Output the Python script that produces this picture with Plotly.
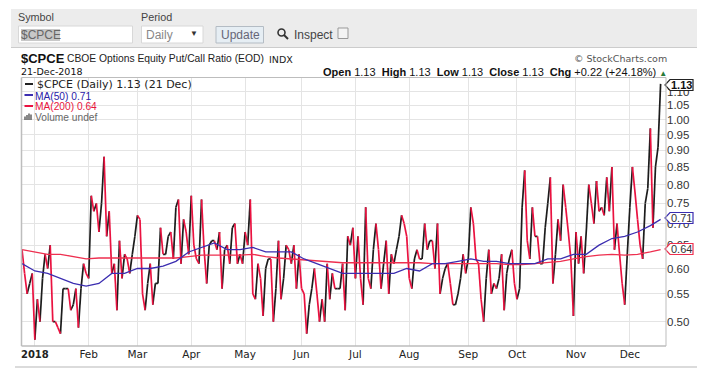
import math
import pandas as pd
import plotly.graph_objects as go

W, H = 710, 368
HOLIDAYS = ["2017-12-25", "2018-01-01", "2018-01-15", "2018-02-19", "2018-03-30", "2018-05-28",
            "2018-07-04", "2018-09-03", "2018-11-22", "2018-12-05"]
dates = [d.strftime("%Y-%m-%d") for d in pd.bdate_range("2017-12-22", "2018-12-21")
         if d.strftime("%Y-%m-%d") not in HOLIDAYS]

close = [.64,.59,.55,.57,.59,.47,.54,.50,.58,.63,.60,.65,.50,.50,.49,.48,.56,.56,.56,.52,.53,.56,.49,.56,.61,
         .59,.58,.77,.73,.75,.68,.75,.88,.67,.73,.59,.61,.52,.66,.58,.63,.62,.59,.63,.67,.72,.71,.55,.52,.57,
         .61,.53,.57,.57,.69,.63,.63,.67,.68,.62,.74,.76,
         .61,.71,.68,.63,.77,.65,.62,.61,.76,.64,.57,.65,.66,.66,.64,.68,.56,.64,.65,.61,.69,.70,.61,.63,.61,
         .68,.65,.76,.55,.54,.61,.58,.51,.60,.62,.62,.50,.56,.66,.54,.58,.65,.64,.61,.65,.56,.63,.56,.55,.48,
         .53,.56,.60,.55,.50,.54,.50,.61,.54,.59,.56,.56,.56,.61,.52,.67,.65,.69,.58,.67,.58,
         .53,.74,.58,.56,.64,.70,.64,.56,.61,.66,.55,.63,.61,.64,.67,.72,.70,.67,.58,.56,.62,.64,.62,.62,.70,
         .64,.66,.66,.60,.70,.55,.58,.60,.61,.57,.53,.53,.55,.58,.63,.59,.62,.74,.70,.62,.61,.54,.50,.58,.64,
         .55,.57,.56,.58,.63,.52,.59,.62,.64,.57,.54,.56,.74,.84,.66,.62,.74,.67,.67,
         .61,.61,.69,.75,.82,.57,.63,.71,.66,.80,.74,.68,.62,.51,.68,.61,.67,.59,.68,.80,.75,.70,.81,.73,.74,
         .72,.82,.73,.85,.64,.70,.63,.57,.53,.63,.74,.85,.78,.71,.65,.62,.75,.79,.97,.69,.85,.91,1.13]

ma_index = list(range(0, 246, 5)) + [249]
ma50 = [.61,.595,.59,.58,.57,.565,.57,.59,.59,.60,.60,.605,.615,
        .635,.645,.655,.64,.64,.645,.635,.635,.635,.62,.61,.60,.59,.59,
        .59,.59,.59,.60,.595,.61,.61,.615,.62,.615,.615,.61,.61,
        .61,.62,.62,.63,.63,.65,.665,.67,.68,.695,.71]
ma200 = [.64,.635,.63,.63,.625,.62,.622,.622,.622,.622,.622,.622,.622,
         .625,.628,.628,.628,.628,.63,.625,.622,.62,.618,.615,.613,.612,.612,
         .612,.612,.612,.612,.612,.61,.61,.61,.61,.61,.61,.608,.608,
         .61,.612,.615,.62,.625,.628,.63,.628,.63,.635,.64]

y_ticks = [.50,.55,.60,.65,.70,.75,.80,.85,.90,.95,1.00,1.05,1.10]
x_tick_dates = ["2018-01-02","2018-02-01","2018-03-01","2018-04-02","2018-05-01","2018-06-01",
                "2018-07-02","2018-08-01","2018-09-04","2018-10-01","2018-11-01","2018-12-03"]
x_tick_text = ["<b style='font-size:10px'>2018</b>","Feb","Mar","Apr","May","Jun","Jul","Aug","Sep","Oct","Nov","Dec"]

BLACK, RED, BLUE, MARED = "#1c1c1c", "#ea1240", "#3b2db0", "#ee2f4f"
SANS, WIDE = "Liberation Sans, Arial", "DejaVu Sans, Verdana"

L, R, T, B = 21.5, 666.0, 77.5, 346.0
px = lambda x: x / W
py = lambda y: 1 - y / H

up_x, up_y, down_x, down_y = [], [], [], []
for i in range(1, len(close)):
    xs, ys = (down_x, down_y) if close[i] < close[i - 1] else (up_x, up_y)
    xs += [dates[i - 1], dates[i], None]
    ys += [close[i - 1], close[i], None]

fig = go.Figure()
fig.add_trace(go.Scatter(x=up_x, y=up_y, mode="lines", line=dict(color=BLACK, width=1.7), connectgaps=False))
fig.add_trace(go.Scatter(x=down_x, y=down_y, mode="lines", line=dict(color=RED, width=1.7), connectgaps=False))
fig.add_trace(go.Scatter(x=[dates[i] for i in ma_index], y=ma200, mode="lines", line=dict(color=MARED, width=1.3)))
fig.add_trace(go.Scatter(x=[dates[i] for i in ma_index], y=ma50, mode="lines", line=dict(color=BLUE, width=1.3)))

shapes, ann = [], []
def rect(x0, y0, x1, y1, fill=None, line=None, lw=1):
    shapes.append(dict(type="rect", xref="paper", yref="paper", x0=px(x0), x1=px(x1), y0=py(y0), y1=py(y1),
                       fillcolor=fill or "rgba(0,0,0,0)", line=dict(color=line or "rgba(0,0,0,0)", width=lw if line else 0), layer="below"))
def hline(x0, x1, y, col, lw=1, layer="above", y2=None):
    shapes.append(dict(type="line", xref="paper", yref="paper", x0=px(x0), x1=px(x1), y0=py(y), y1=py(y if y2 is None else y2),
                       line=dict(color=col, width=lw), layer=layer))
def text(x, y, s, size=11, color="#222", family=SANS, anchor="left"):
    ann.append(dict(xref="paper", yref="paper", x=px(x), y=py(y), text=s, showarrow=False, xanchor=anchor, yanchor="middle",
                    font=dict(size=size, color=color, family=family), borderpad=0, borderwidth=0))

rect(11, 9, 697, 47, fill="#ececec")
hline(11, 697, 47.5, "#cccccc", 1.2, layer="below")
rect(18.5, 26, 132.5, 43, fill="#ffffff", line="#d8d8d8")
rect(21, 29, 60, 41, fill="#c8c8c8")
rect(141.5, 26, 203, 43, fill="#ffffff", line="#d8d8d8")
rect(216, 26.5, 263.5, 43, fill="#e6eef4", line="#b4bcc4")
rect(338, 28, 348, 38.5, fill="#f4f4f4", line="#999999")
shapes.append(dict(type="circle", xref="paper", yref="paper", x0=px(278), x1=px(285), y0=py(29), y1=py(36),
                   line=dict(color="#333", width=1.6)))
hline(284, 288, 35, "#333", 2, y2=39)
text(18, 17, "Symbol", 10.8, "#444")
text(141, 17, "Period", 10.8, "#444")
text(21, 35, "$CPCE", 12, "#666")
text(146, 35, "Daily", 12, "#888")
text(190, 34, "▼", 8, "#333")
text(221, 35, "Update", 12, "#667")
text(294, 35, "Inspect", 12, "#444")

text(21, 58.5, "<b>$CPCE</b>", 13, "#111")
text(67, 58.5, "CBOE Options Equity Put/Call Ratio (EOD)", 10.3, "#222")
text(269, 59, "INDX", 9.5, "#222", WIDE)
text(21, 71.5, "21-Dec-2018", 9.5, "#111", WIDE)
text(667, 58.5, "© StockCharts.com", 9.5, "#555", WIDE, "right")
text(667, 71.5, "<b>Open</b> 1.13  <b>High</b> 1.13  <b>Low</b> 1.13  <b>Close</b> 1.13  <b>Chg</b> +0.22 (+24.18%) "
     "<span style='color:#2a7a3a;font-size:8px'>▲</span>", 11, "#111", SANS, "right")

text(36.5, 85, "$CPCE (Daily) 1.13 (21 Dec)", 11, "#222", WIDE)
text(34.5, 96, "MA(50) 0.71", 10.2, "#2a20a8")
text(34.5, 106.5, "MA(200) 0.64", 10.2, "#e8143c")
text(34.5, 117, "Volume undef", 10.2, "#666")
hline(25, 33, 84, "#222", 2)
hline(24.5, 33, 95, BLUE, 2)
hline(24.5, 33, 106, RED, 2)
for xb, top in [(25, 116.5), (27, 115), (29, 113.5), (31, 114.5)]:
    hline(xb, xb, 120, "#555", 1.4, y2=top)

def callout(y_mid, label, col, bold):
    top, bot = y_mid - 5.5, y_mid + 5.5
    xs = [665, 670, 693, 693, 670]
    ys = [y_mid, top, top, bot, bot]
    path = "M " + " L ".join(f"{px(a)},{py(b)}" for a, b in zip(xs, ys)) + " Z"
    shapes.append(dict(type="path", xref="paper", yref="paper", path=path, fillcolor="#ffffff",
                       line=dict(color=col, width=1.2), layer="above"))
    text(681.5, y_mid + 0.3, f"<b>{label}</b>" if bold else label, 11, "#111" if bold else "#333", SANS, "center")
callout(85, "1.13", "#222", True)
callout(218, "0.71", BLUE, False)
callout(249, "0.64", MARED, False)

hline(L, R, T, "#bdbdbd", 1)
hline(L, L, T, "#bdbdbd", 1.5, y2=B)
hline(L, R, B, "#bdbdbd", 1.5)
hline(R, R, T, "#bdbdbd", 1, y2=B)
hline(15, 697, 367, "#cfcfcf", 1.5, layer="below")

fig.update_layout(
    width=W, height=H, margin=dict(l=0, r=0, t=0, b=0), autosize=False,
    paper_bgcolor="#ffffff", plot_bgcolor="#ffffff", showlegend=False,
    shapes=shapes, annotations=ann,
    xaxis=dict(domain=[px(L), px(R)], type="category", categoryorder="array", categoryarray=dates,
               range=[-0.2, 251.1], tickmode="array", tickvals=x_tick_dates, ticktext=x_tick_text,
               showgrid=True, gridcolor="#e4e4e4", gridwidth=1.3, zeroline=False, showline=False, ticks="",
               tickfont=dict(size=10.5, color="#222", family=WIDE)),
    yaxis=dict(domain=[py(B), py(T)], type="log",
               range=[math.log10(0.46), math.log10(1.155)], side="right", tickmode="array", tickvals=y_ticks,
               ticktext=[f"{v:.2f}" for v in y_ticks], showgrid=True, gridcolor="#e4e4e4", gridwidth=1.3,
               zeroline=False, showline=False, ticks="", tickfont=dict(size=11.5, color="#333", family=SANS)),
)
fig.write_html("out.html", config={"displayModeBar": False},
               post_script="document.body.style.margin='0';document.body.style.overflow='hidden';")
